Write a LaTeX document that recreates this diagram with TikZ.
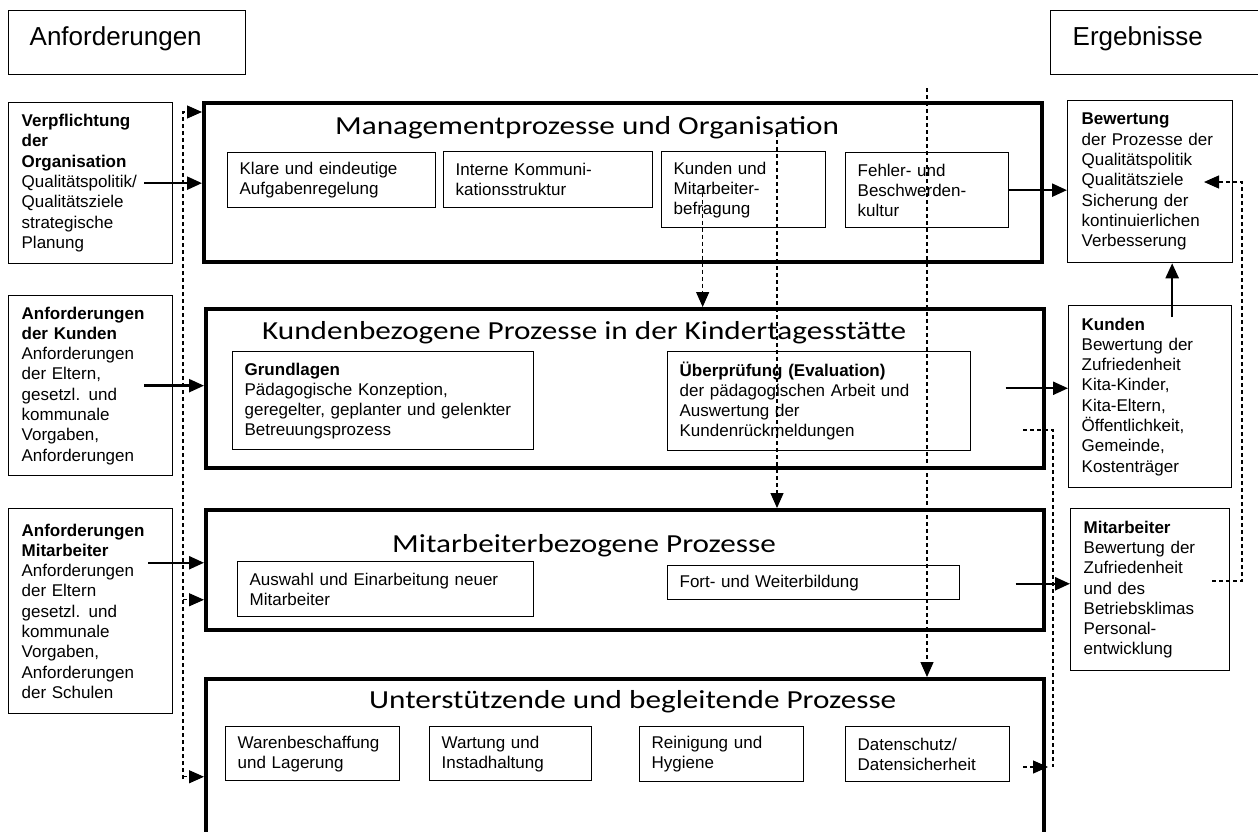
\documentclass[tikz,border=0pt]{standalone}
\usepackage{fontspec}
\setmainfont{Liberation Sans}
\newfontfamily\titlefont[FakeStretch=1.2]{Carlito}
\usepackage{tikz}
\usetikzlibrary{arrows.meta}

\begin{document}
\begin{tikzpicture}[
  x=1pt, y=-1pt,
  head/.style={draw, line width=1.4pt, anchor=north west, align=left, inner xsep=21pt, inner ysep=16pt, text height=19pt, text depth=13pt, font=\fontsize{26}{30}\selectfont},
  sidebox/.style={draw, line width=1.3pt, anchor=north west, align=left, inner xsep=13pt, inner ysep=0pt, font=\fontsize{17}{20.3}\selectfont},
  procbox/.style={draw, line width=3.5pt, anchor=north west, inner sep=0pt},
  subbox/.style={draw, line width=1.3pt, anchor=north west, align=left, inner xsep=12pt, inner ysep=0pt, font=\fontsize{17}{20}\selectfont},
  ptitle/.style={anchor=base west, inner sep=0pt, font=\titlefont\fontsize{26}{30}\selectfont},
  flow/.style={line width=2.4pt, -{Triangle[length=15pt,width=13pt]}},
  feed/.style={line width=1.2pt, dash pattern=on 4pt off 3pt, -{Triangle[length=15pt,width=13pt]}},
  feedline/.style={line width=1.2pt, dash pattern=on 4pt off 3pt}
]
  \useasboundingbox[fill=white] (0,0) rectangle (1258,831);
  \clip (0,0) rectangle (1258,831);

  % column heads
  \node[head, text width=195pt] (anf) at (8,10) {Anforderungen};
  \node[head, text width=200pt, inner xsep=22pt] (erg) at (1050,10) {Ergebnisse};

  % requirements
  \node[sidebox, text width=138pt, minimum height=161pt] (l1) at (8,102)
    {\textbf{Verpflichtung}\\\textbf{der}\\\textbf{Organisation}\\Qualitätspolitik/\\Qualitätsziele\\strategische\\Planung};
  \node[sidebox, text width=138pt, minimum height=180pt] (l2) at (8,295)
    {\textbf{Anforderungen}\\\textbf{der Kunden}\\Anforderungen\\der Eltern,\\gesetzl. und\\kommunale\\Vorgaben,\\Anforderungen};
  \node[sidebox, text width=138pt, minimum height=205pt] (l3) at (8,508)
    {\textbf{Anforderungen}\\\textbf{Mitarbeiter}\\Anforderungen\\der Eltern\\gesetzl. und\\kommunale\\Vorgaben,\\Anforderungen\\der Schulen};

  % results
  \node[sidebox, inner xsep=14pt, text width=137pt, minimum height=162pt] (bewert) at (1067,100)
    {\textbf{Bewertung}\\der Prozesse der\\Qualitätspolitik\\Qualitätsziele\\Sicherung der\\kontinuierlichen\\Verbesserung};
  \node[sidebox, text width=137pt, minimum height=182pt] (kunden) at (1068,305)
    {\textbf{Kunden}\\Bewertung der\\Zufriedenheit\\Kita-Kinder,\\Kita-Eltern,\\Öffentlichkeit,\\Gemeinde,\\Kostenträger};
  \node[sidebox, text width=133pt, minimum height=162pt] (mitarb) at (1070,508)
    {\textbf{Mitarbeiter}\\Bewertung der\\Zufriedenheit\\und des\\Betriebsklimas\\Personal-\\entwicklung};

  % process blocks
  \node[procbox, minimum width=838pt, minimum height=159pt] (m1) at (202,101) {};
  \node[procbox, minimum width=838pt, minimum height=159pt] (m2) at (204,307) {};
  \node[procbox, minimum width=838pt, minimum height=120pt] (m3) at (204,508) {};
  \node[procbox, minimum width=838pt, minimum height=200pt] (m4) at (204,677) {};

  \node[ptitle] (t1) at (335,134) {Managementprozesse und Organisation};
  \node[ptitle] (t2) at (262,339) {Kundenbezogene Prozesse in der Kindertagesstätte};
  \node[ptitle] (t3) at (392,552) {Mitarbeiterbezogene Prozesse};
  \node[ptitle] (t4) at (369,708) {Unterstützende und begleitende Prozesse};

  \node[subbox, text width=184pt, minimum height=55pt] (klare) at (227,152) {Klare und eindeutige\\Aufgabenregelung};
  \node[subbox, text width=185pt, minimum height=56pt] (interne) at (443,151) {Interne Kommuni-\\kationsstruktur};
  \node[subbox, text width=140pt, minimum height=76pt] (befrag) at (661,151) {Kunden und\\Mitarbeiter-\\befragung};
  \node[subbox, text width=139pt, minimum height=75pt] (fehler) at (845,152) {Fehler- und\\Beschwerden-\\kultur};

  \node[subbox, text width=277pt, minimum height=98pt] (grundl) at (232,351)
    {\textbf{Grundlagen}\\Pädagogische Konzeption,\\geregelter, geplanter und gelenkter\\Betreuungsprozess};
  \node[subbox, text width=279pt, minimum height=99pt] (evalu) at (667,351)
    {\textbf{Überprüfung (Evaluation)}\\der pädagogischen Arbeit und\\Auswertung der\\Kundenrückmeldungen};

  \node[subbox, text width=272pt, minimum height=55pt] (auswahl) at (237,561) {Auswahl und Einarbeitung neuer\\Mitarbeiter};
  \node[subbox, text width=268pt, minimum height=34pt] (fortb) at (667,565) {Fort- und Weiterbildung};

  \node[subbox, text width=150pt, minimum height=54pt] (waren) at (225,726) {Warenbeschaffung\\und Lagerung};
  \node[subbox, text width=138pt, minimum height=54pt] (wartung) at (429,726) {Wartung und\\Instadhaltung};
  \node[subbox, text width=140pt, minimum height=55pt] (reinig) at (639,726) {Reinigung und\\Hygiene};
  \node[subbox, text width=140pt, minimum height=55pt] (datensch) at (845,726) {Datenschutz/\\Datensicherheit};

  % solid flows
  \coordinate (m3in) at ([yshift=7pt]m3.west);
  \coordinate (m3out) at ([yshift=-14pt]m3.east);
  \draw[flow, shorten <=-29pt] (l1.east) -- (l1.east -| m1.west);
  \draw[flow, shorten <=-29pt] (l2.east) -- (l2.east -| m2.west);
  \draw[flow, shorten <=-25pt] (m3in -| l3.east) -- (m3in);
  \draw[flow] (fehler.east) -- (fehler.east -| bewert.west);
  \draw[flow, shorten <=-40pt] (m2.east) -- (m2.east -| kunden.west);
  \draw[flow, shorten <=-30pt] (m3out) -- (m3out -| mitarb.west);
  \draw[flow, shorten <=-12pt] ([xshift=22pt]kunden.north) -- ([xshift=22pt]bewert.south);

  % dashed feedback lines
  \coordinate (busTop) at (183,112);
  \coordinate (busBot) at (183,779);
  \coordinate (m3dash) at ([yshift=-30pt]m3.west);
  \coordinate (m4dash) at ([yshift=2pt]m4.west);
  \draw[feed] (busBot) -- (busTop) -- (busTop -| m1.west);
  \draw[feed] (busTop |- m3dash) -- (m3dash);
  \draw[feed] (busTop |- m4dash) -- (m4dash);

  \coordinate (d2top) at ([xshift=-41pt,yshift=4pt]befrag.center);
  \coordinate (d3top) at (777,133);
  \coordinate (d4top) at (927,88);
  \draw[feed] (d2top) -- (d2top |- m2.north);
  \draw[feed] (d3top) -- (d3top |- m3.north);
  \draw[feed] (d4top) -- (d4top |- m4.north);

  \coordinate (d5top) at (1053,430);
  \coordinate (d5bot) at (1053,767);
  \draw[feedline] ([xshift=-30pt]d5top) -- (d5top) -- (d5bot);
  \draw[feed] ([xshift=-30pt]d5bot) -- ([xshift=-5pt]d5bot);

  \coordinate (d6bot) at (1242,581);
  \coordinate (d6top) at (1242,182);
  \draw[feed] ([xshift=-30pt]d6bot) -- (d6bot) -- (d6top) -- ([xshift=-38pt]d6top);

\end{tikzpicture}
\end{document}
